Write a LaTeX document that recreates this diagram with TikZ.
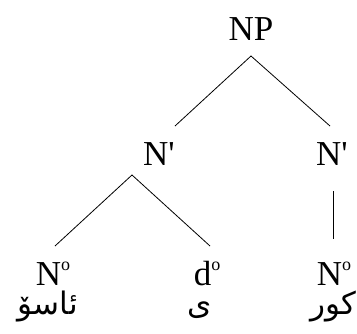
\documentclass[tikz,border=0pt]{standalone}
\usepackage{fontspec}
\setmainfont{Liberation Serif}
\newfontfamily\arabicfont[Script=Arabic]{DejaVu Sans}
\TeXXeTstate=1
\newcommand{\degsup}{\raisebox{15pt}{\fontsize{18}{18}\selectfont o}}
\begin{document}
\begin{tikzpicture}[x=1pt,y=1pt,
  lbl/.style={inner sep=0pt,anchor=base,font=\fontsize{35}{40}\selectfont},
  arb/.style={inner sep=0pt,anchor=base,font=\arabicfont\fontsize{31}{36}\selectfont},
  edge/.style={line width=0.8pt}]
\useasboundingbox (0,0) rectangle (357,-333);
\node[lbl] (np) at (251,-40) {NP};
\node[lbl] (nl) at (159,-165) {N\textquotesingle};
\node[lbl] (nr) at (332,-165) {N\textquotesingle};
\node[lbl] (n1) at (53,-285) {N\degsup};
\node[lbl] (d1) at (207,-285) {d\degsup};
\node[lbl] (n2) at (334,-285) {N\degsup};
\node[arb] (w1) at (48,-314) {\beginR ئاسۆ\endR};
\node[arb] (w2) at (200,-314) {\beginR ی\endR};
\node[arb] (w3) at (333,-314) {\beginR کور\endR};
\coordinate (a0) at (251,-56);
\coordinate (a1) at (175,-126);
\coordinate (a2) at (330,-126);
\coordinate (b0) at (132,-175);
\coordinate (b1) at (55,-246);
\coordinate (b2) at (210,-246);
\coordinate (c0) at (333,-191);
\coordinate (c1) at (333,-239);
\draw[edge] (a1) -- (a0) -- (a2);
\draw[edge] (b1) -- (b0) -- (b2);
\draw[edge] (c0) -- (c1);
\end{tikzpicture}
\end{document}
